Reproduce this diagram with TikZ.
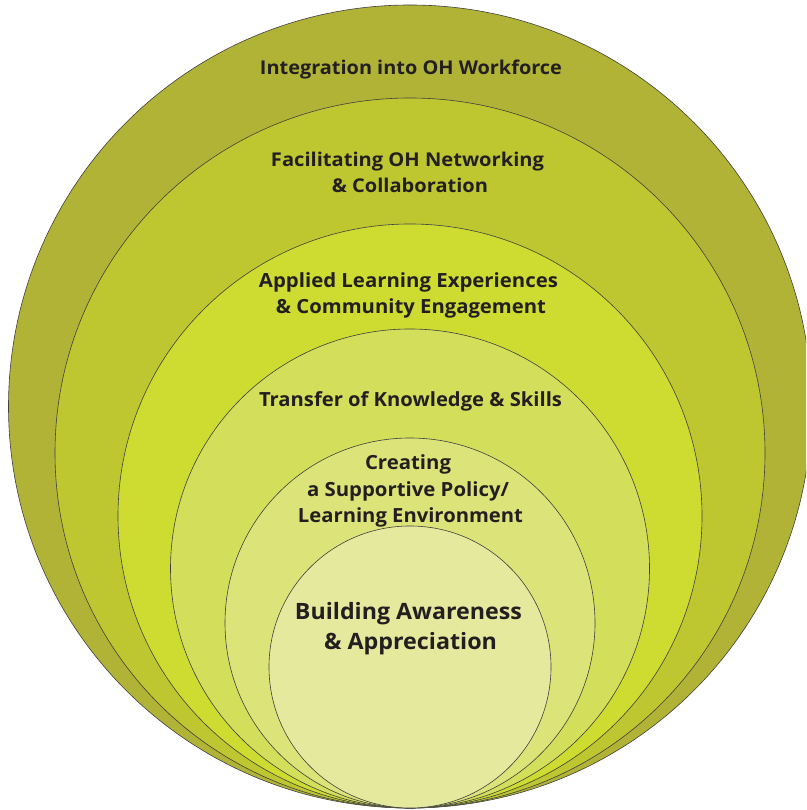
\documentclass[tikz,border=0pt]{standalone}
\usepackage{fontspec}
\usepackage{graphicx}
\setmainfont{Open Sans}
\definecolor{cA}{HTML}{B1B336}
\definecolor{cB}{HTML}{BEC630}
\definecolor{cC}{HTML}{CEDC31}
\definecolor{cD}{HTML}{D3DF5B}
\definecolor{cE}{HTML}{DCE378}
\definecolor{cF}{HTML}{E4E99D}
\definecolor{txt}{HTML}{231F20}
\newcommand\fitw[2]{\resizebox{#1}{\height}{#2}}
\tikzset{
  ring/.style={circle, draw=black!75, line width=0.6pt, inner sep=0pt},
  lbl/.style={text=txt, inner sep=0pt, anchor=base, font=\bfseries\fontsize{19.5}{22}\selectfont},
  top/.style={lbl, font=\bfseries\fontsize{19}{22}\selectfont},
  big/.style={lbl, font=\bfseries\fontsize{22.5}{26}\selectfont},
}
\begin{document}
\begin{tikzpicture}[x=1pt,y=1pt]
\useasboundingbox (0,0) rectangle (806,810);
\clip (0,0) rectangle (806,810);
\node[ring, fill=cA, minimum size=803pt] (r1) at (410,403.5) {};
\node[ring, fill=cB, minimum size=710pt] (r2) at (410,357) {};
\node[ring, fill=cC, minimum size=584pt] (r3) at (410,294) {};
\node[ring, fill=cD, minimum size=479pt] (r4) at (410,241.5) {};
\node[ring, fill=cE, minimum size=370pt] (r5) at (410,187) {};
\node[ring, fill=cF, minimum size=282pt] (r6) at (410,143) {};
\node[top] (t1) at (411,735) {\fitw{302pt}{Integration into OH Workforce}};
\node[top] (t2a) at (407.5,643) {\fitw{273pt}{Facilitating OH Networking}};
\node[top] (t2b) at (410,617) {\fitw{156pt}{\& Collaboration}};
\node[lbl] (t3a) at (408.5,522) {\fitw{299pt}{Applied Learning Experiences}};
\node[lbl] (t3b) at (411,496) {\fitw{270pt}{\& Community Engagement}};
\node[lbl] (t4) at (410.5,403) {\fitw{303pt}{Transfer of Knowledge \& Skills}};
\node[lbl] (t5a) at (408,340) {\fitw{86pt}{Creating}};
\node[lbl] (t5b) at (408,313) {\fitw{202pt}{a Supportive Policy/}};
\node[lbl] (t5c) at (410.5,287) {\fitw{225pt}{Learning Environment}};
\node[big] (t6a) at (408.5,190) {\fitw{227pt}{Building Awareness}};
\node[big] (t6b) at (410.5,160) {\fitw{173pt}{\& Appreciation}};
\end{tikzpicture}
\end{document}
